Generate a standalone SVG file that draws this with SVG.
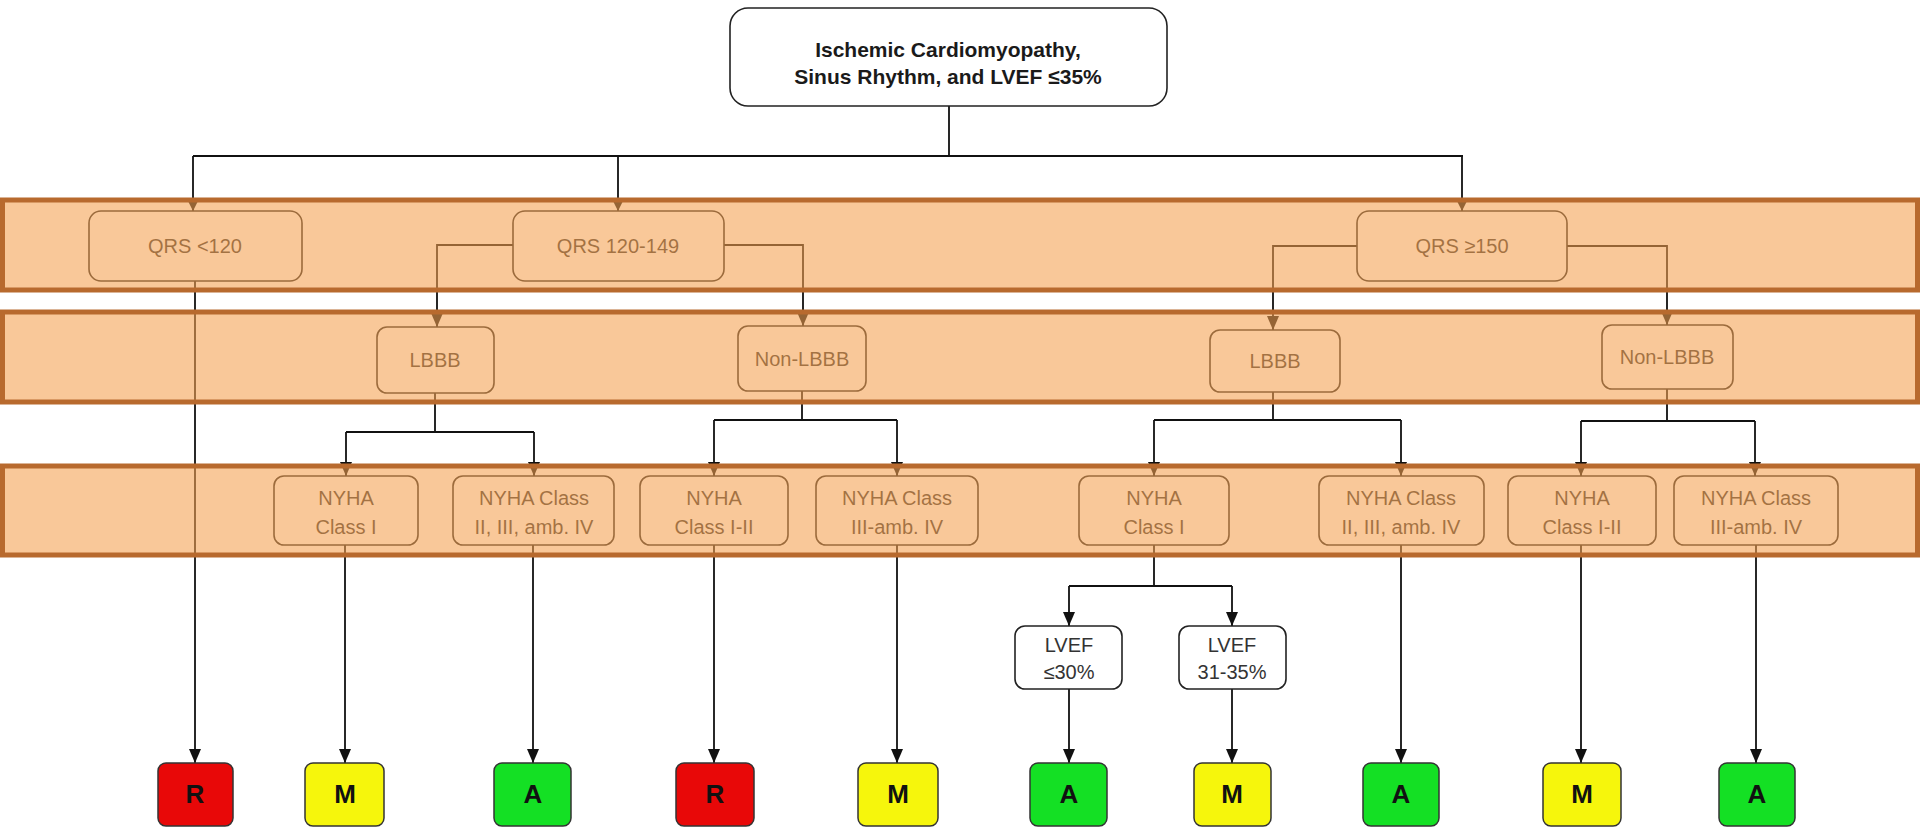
<svg xmlns="http://www.w3.org/2000/svg" width="1920" height="827" viewBox="0 0 1920 827">
<style>
.bg{fill:#ffffff}
.box{fill:#ffffff;stroke:#222;stroke-width:1.6}
.t{font-family:"Liberation Sans",Arial,sans-serif;font-size:20px;fill:#333;text-anchor:middle}
.tt{font-family:"Liberation Sans",Arial,sans-serif;font-size:21px;font-weight:bold;fill:#1a1a1a;text-anchor:middle}
.o{font-family:"Liberation Sans",Arial,sans-serif;font-size:26px;font-weight:bold;fill:#111;text-anchor:middle}
.ln{fill:none;stroke:#111;stroke-width:1.8}
.ar{fill:none;stroke:#111;stroke-width:1.8;marker-end:url(#ah)}
.ars{fill:none;stroke:#111;stroke-width:1.8;marker-end:url(#ahs)}
.r{fill:#E80808;stroke:#333;stroke-width:1.5}
.m{fill:#F6F60C;stroke:#333;stroke-width:1.5}
.a{fill:#14E024;stroke:#333;stroke-width:1.5}
.band{fill:#F4A050;fill-opacity:0.58;stroke:#B86A2E;stroke-width:5}
</style>
<defs>
<marker id="ah" markerUnits="userSpaceOnUse" markerWidth="14" markerHeight="14" viewBox="0 0 14 14" refX="14" refY="7" orient="auto">
<path d="M0,1 L14,7 L0,13 z" fill="#111"/>
</marker>
<marker id="ahs" markerUnits="userSpaceOnUse" markerWidth="10" markerHeight="10" viewBox="0 0 10 10" refX="10" refY="5" orient="auto">
<path d="M0,0 L10,5 L0,10 z" fill="#111"/>
</marker>
</defs>
<rect class="bg" x="0" y="0" width="1920" height="827"/>

<g id="connectors">
<path class="ln" d="M949,106 V156 M193,156 H1463"/>
<path class="ars" d="M193,156 V211"/>
<path class="ars" d="M618,156 V211"/>
<path class="ars" d="M1462,156 V211"/>
<path class="ar" d="M513,245 H437 V327"/>
<path class="ar" d="M724,245 H803 V326"/>
<path class="ar" d="M1357,246 H1273 V330"/>
<path class="ar" d="M1567,246 H1667 V325"/>
<path class="ar" d="M195,281 V763"/>
<path class="ln" d="M435,393 V432 M346,432 H534"/>
<path class="ar" d="M346,432 V476"/>
<path class="ar" d="M534,432 V476"/>
<path class="ln" d="M802,391 V420 M714,420 H897"/>
<path class="ar" d="M714,420 V476"/>
<path class="ar" d="M897,420 V476"/>
<path class="ln" d="M1273,392 V420 M1154,420 H1401"/>
<path class="ar" d="M1154,420 V476"/>
<path class="ar" d="M1401,420 V476"/>
<path class="ln" d="M1667,389 V421 M1581,421 H1755"/>
<path class="ar" d="M1581,421 V476"/>
<path class="ar" d="M1755,421 V476"/>
<path class="ar" d="M345,545 V763"/>
<path class="ar" d="M533,545 V763"/>
<path class="ar" d="M714,545 V763"/>
<path class="ar" d="M897,545 V763"/>
<path class="ar" d="M1401,545 V763"/>
<path class="ar" d="M1581,545 V763"/>
<path class="ar" d="M1756,545 V763"/>
<path class="ln" d="M1154,545 V586 M1069,586 H1232"/>
<path class="ar" d="M1069,586 V626"/>
<path class="ar" d="M1232,586 V626"/>
<path class="ar" d="M1069,689 V763"/>
<path class="ar" d="M1232,689 V763"/>
</g>

<g id="root">
<rect class="box" x="730" y="8" width="437" height="98" rx="18" stroke-width="2"/>
<text class="tt" x="948" y="57">Ischemic Cardiomyopathy,</text>
<text class="tt" x="948" y="84">Sinus Rhythm, and LVEF ≤35%</text>
</g>

<g id="qrs-lt120"><rect class="box" x="89" y="211" width="213" height="70" rx="12"/><text class="t" x="195" y="253">QRS &lt;120</text></g>
<g id="qrs-120-149"><rect class="box" x="513" y="211" width="211" height="70" rx="12"/><text class="t" x="618" y="253">QRS 120-149</text></g>
<g id="qrs-ge150"><rect class="box" x="1357" y="211" width="210" height="70" rx="12"/><text class="t" x="1462" y="253">QRS ≥150</text></g>

<g id="lbbb-1"><rect class="box" x="377" y="327" width="117" height="66" rx="10"/><text class="t" x="435" y="367">LBBB</text></g>
<g id="nonlbbb-1"><rect class="box" x="738" y="326" width="128" height="65" rx="10"/><text class="t" x="802" y="366">Non-LBBB</text></g>
<g id="lbbb-2"><rect class="box" x="1210" y="330" width="130" height="62" rx="10"/><text class="t" x="1275" y="368">LBBB</text></g>
<g id="nonlbbb-2"><rect class="box" x="1602" y="325" width="131" height="64" rx="10"/><text class="t" x="1667" y="364">Non-LBBB</text></g>

<g id="nyha-1a"><rect class="box" x="274" y="476" width="144" height="69" rx="10"/><text class="t" x="346" y="505">NYHA</text><text class="t" x="346" y="534">Class I</text></g>
<g id="nyha-1b"><rect class="box" x="453" y="476" width="161" height="69" rx="10"/><text class="t" x="534" y="505">NYHA Class</text><text class="t" x="534" y="534">II, III, amb. IV</text></g>
<g id="nyha-1c"><rect class="box" x="640" y="476" width="148" height="69" rx="10"/><text class="t" x="714" y="505">NYHA</text><text class="t" x="714" y="534">Class I-II</text></g>
<g id="nyha-1d"><rect class="box" x="816" y="476" width="162" height="69" rx="10"/><text class="t" x="897" y="505">NYHA Class</text><text class="t" x="897" y="534">III-amb. IV</text></g>
<g id="nyha-2a"><rect class="box" x="1079" y="476" width="150" height="69" rx="10"/><text class="t" x="1154" y="505">NYHA</text><text class="t" x="1154" y="534">Class I</text></g>
<g id="nyha-2b"><rect class="box" x="1319" y="476" width="165" height="69" rx="10"/><text class="t" x="1401" y="505">NYHA Class</text><text class="t" x="1401" y="534">II, III, amb. IV</text></g>
<g id="nyha-2c"><rect class="box" x="1508" y="476" width="148" height="69" rx="10"/><text class="t" x="1582" y="505">NYHA</text><text class="t" x="1582" y="534">Class I-II</text></g>
<g id="nyha-2d"><rect class="box" x="1674" y="476" width="164" height="69" rx="10"/><text class="t" x="1756" y="505">NYHA Class</text><text class="t" x="1756" y="534">III-amb. IV</text></g>

<g id="lvef-le30"><rect class="box" x="1015" y="626" width="107" height="63" rx="10"/><text class="t" x="1069" y="652">LVEF</text><text class="t" x="1069" y="679">≤30%</text></g>
<g id="lvef-31-35"><rect class="box" x="1179" y="626" width="107" height="63" rx="10"/><text class="t" x="1232" y="652">LVEF</text><text class="t" x="1232" y="679">31-35%</text></g>

<g id="out-1"><rect class="r" x="158" y="763" width="75" height="63" rx="8"/><text class="o" x="195" y="803">R</text></g>
<g id="out-2"><rect class="m" x="305" y="763" width="79" height="63" rx="8"/><text class="o" x="345" y="803">M</text></g>
<g id="out-3"><rect class="a" x="494" y="763" width="77" height="63" rx="8"/><text class="o" x="533" y="803">A</text></g>
<g id="out-4"><rect class="r" x="676" y="763" width="78" height="63" rx="8"/><text class="o" x="715" y="803">R</text></g>
<g id="out-5"><rect class="m" x="858" y="763" width="80" height="63" rx="8"/><text class="o" x="898" y="803">M</text></g>
<g id="out-6"><rect class="a" x="1030" y="763" width="77" height="63" rx="8"/><text class="o" x="1069" y="803">A</text></g>
<g id="out-7"><rect class="m" x="1194" y="763" width="77" height="63" rx="8"/><text class="o" x="1232" y="803">M</text></g>
<g id="out-8"><rect class="a" x="1363" y="763" width="76" height="63" rx="8"/><text class="o" x="1401" y="803">A</text></g>
<g id="out-9"><rect class="m" x="1543" y="763" width="78" height="63" rx="8"/><text class="o" x="1582" y="803">M</text></g>
<g id="out-10"><rect class="a" x="1719" y="763" width="76" height="63" rx="8"/><text class="o" x="1757" y="803">A</text></g>

<g id="bands">
<rect class="band" x="2.5" y="200" width="1915" height="90"/>
<rect class="band" x="2.5" y="312" width="1915" height="90"/>
<rect class="band" x="2.5" y="466" width="1915" height="89"/>
</g>
</svg>
